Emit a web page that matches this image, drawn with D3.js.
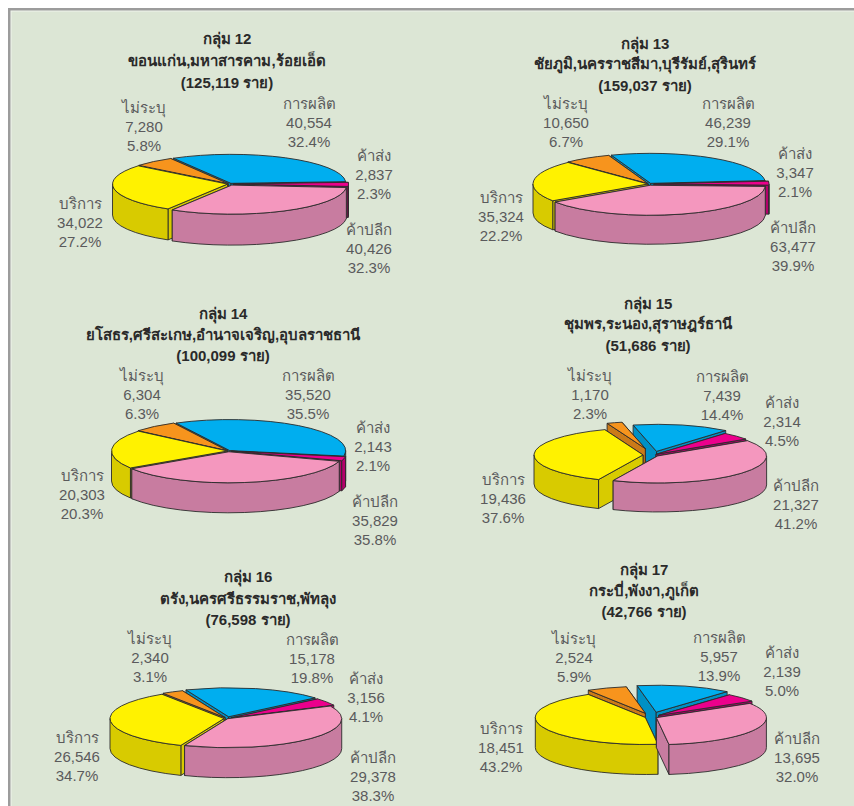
<!DOCTYPE html>
<html><head><meta charset="utf-8">
<script src="https://cdn.jsdelivr.net/npm/d3@7"></script>
<style>html,body{margin:0;padding:0;background:#fff;overflow:hidden}svg{display:block}</style>
</head><body><div id="c"></div>
<script>
const categories = ["การผลิต","ค้าส่ง","ค้าปลีก","บริการ","ไม่ระบุ"];
const groupNames = ["กลุ่ม 12","กลุ่ม 13","กลุ่ม 14","กลุ่ม 15","กลุ่ม 16","กลุ่ม 17"];
const provinces = ["ขอนแก่น,มหาสารคาม,ร้อยเอ็ด","ชัยภูมิ,นครราชสีมา,บุรีรัมย์,สุรินทร์","ยโสธร,ศรีสะเกษ,อำนาจเจริญ,อุบลราชธานี","ชุมพร,ระนอง,สุราษฎร์ธานี","ตรัง,นครศรีธรรมราช,พัทลุง","กระบี่,พังงา,ภูเก็ต"];
const totals = ["125,119","159,037","100,099","51,686","76,598","42,766"];
const values12 = [40554,2837,40426,34022,7280];
const values13 = [46239,3347,63477,35324,10650];
const values14 = [35520,2143,35829,20303,6304];
const values15 = [7439,2314,21327,19436,1170];
const values16 = [15178,3156,29378,26546,2340];
const values17 = [5957,2139,13695,18451,2524];
const percents12 = ["32.4%","2.3%","32.3%","27.2%","5.8%"];
const percents13 = ["29.1%","2.1%","39.9%","22.2%","6.7%"];
const percents14 = ["35.5%","2.1%","35.8%","20.3%","6.3%"];
const percents15 = ["14.4%","4.5%","41.2%","37.6%","2.3%"];
const percents16 = ["19.8%","4.1%","38.3%","34.7%","3.1%"];
const percents17 = ["13.9%","5.0%","32.0%","43.2%","5.9%"];
const allValues = [values12,values13,values14,values15,values16,values17];
const allPercents = [percents12,percents13,percents14,percents15,percents16,percents17];

// layout (separate from data)
const topColors = ["#00AEEF","#EC008C","#F497BE","#FFF200","#F7941D"];
const wallColors = ["#0090C4","#B4006B","#C87CA0","#D8CB00","#CB7A18"];
const paintOrder = [0,1,4,3,2];
const layouts = [
 {cx:229.5,cy:184,rx:115,ry:29,d:31,start:-30,ex:[3,4,5,2,2],title:[227,38,60,82],
  labels:[[309,103],[374,155],[369,229],[80,203],[144,107]]},
 {cx:649,cy:184,rx:115,ry:30,d:29,start:-20,ex:[3,5,5,1,2],title:[645,43,63,85],
  labels:[[728,103],[795,153],[793,227],[501,197],[566,103]]},
 {cx:228.5,cy:451,rx:116,ry:31,d:30,start:-27.5,ex:[2,3,3,1,2],title:[223,313,334,355],
  labels:[[308,375],[373,427],[375,501],[82,475],[142,375]]},
 {cx:653,cy:455,rx:109,ry:27,d:29,start:-12.4,ex:[15,4,6,10,27],title:[648,303,323,345],
  labels:[[722,376],[782,402],[796,485],[503,479],[590,375]]},
 {cx:227,cy:718.5,rx:114,ry:29,d:30,start:-22,ex:[7,5,1,3,4],title:[248,576,598,619],
  labels:[[312,639],[366,678],[373,757],[77,737],[150,638]]},
 {cx:651,cy:717,rx:110,ry:27,d:30,start:-10,ex:[20,10,6,6,16],title:[644,569,590,611],
  labels:[[719,637],[782,652],[797,738],[501,728],[574,638]]}
];
const FONT = "'Liberation Sans','Noto Sans',Arial,sans-serif";
const labelStep = 19;

const svg = d3.select("#c").append("svg").attr("width",854).attr("height",806);
svg.append("rect").attr("x",8).attr("y",8).attr("width",846).attr("height",798).attr("fill","#9C9C9C");
svg.append("rect").attr("x",10.5).attr("y",10.5).attr("width",844).attr("height",796).attr("fill","#F0F5EC");
svg.append("rect").attr("x",11.5).attr("y",11.5).attr("width",843).attr("height",795).attr("fill","#DCE6D5");

const rad = d3.scaleLinear().domain([0,360]).range([0,2*Math.PI]);
const pie = d3.pie().sort(null);

allValues.forEach((vals,g)=>{
  const L = layouts[g];
  const root = svg.append("g");
  const arcs = pie.startAngle(rad(L.start)).endAngle(rad(L.start+360))(vals);
  const slices = arcs.map(a=>{
    const mid=(a.startAngle+a.endAngle)/2, e=L.ex[a.index];
    return {...a,mid,ax:L.cx+Math.sin(mid)*e,ay:L.cy-Math.cos(mid)*e*L.ry/L.rx};
  });
  const pt=(s,t,dz=0)=>[s.ax+Math.sin(t)*L.rx, s.ay-Math.cos(t)*L.ry+dz];
  const arcTo=(s,t0,t1,dz=0,sweep=1)=>{
    const p=pt(s,t1,dz), large=Math.abs(t1-t0)>Math.PI?1:0;
    return `A${L.rx},${L.ry} 0 ${large} ${sweep} ${p[0]},${p[1]}`;
  };
  paintOrder.map(i=>slices[i]).forEach(s=>{
    const gs=root.append("g").attr("stroke","#2b2b2b").attr("stroke-width",0.9).attr("stroke-linejoin","round");
    const wc=wallColors[s.index], tc=topColors[s.index];
    // cut faces, the one further back first
    [s.startAngle,s.endAngle].map(t=>pt(s,t)).sort((a,b)=>a[1]-b[1]).forEach(p=>{
      gs.append("path").attr("fill",wc)
        .attr("d",`M${s.ax},${s.ay}L${p[0]},${p[1]}L${p[0]},${p[1]+L.d}L${s.ax},${s.ay+L.d}Z`);
    });
    // outer wall: only the front half of the rim, angles between 90 and 270 degrees
    const t0=Math.max(s.startAngle,Math.PI/2), t1=Math.min(s.endAngle,3*Math.PI/2);
    if(t1>t0){
      const p0=pt(s,t0), p1b=pt(s,t1,L.d);
      gs.append("path").attr("fill",wc)
        .attr("d",`M${p0[0]},${p0[1]}${arcTo(s,t0,t1)}L${p1b[0]},${p1b[1]}${arcTo(s,t1,t0,L.d,0)}Z`);
    }
    // top
    const p0=pt(s,s.startAngle);
    gs.append("path").attr("fill",tc)
      .attr("d",`M${s.ax},${s.ay}L${p0[0]},${p0[1]}${arcTo(s,s.startAngle,s.endAngle)}Z`);
  });
  // title
  const tg=root.append("g").attr("text-anchor","middle").attr("font-family",FONT)
    .attr("font-weight","bold").attr("font-size",15).attr("fill","#2a2a2a");
  [groupNames[g],provinces[g],`(${totals[g]} ราย)`].forEach((t,i)=>{
    tg.append("text").attr("x",L.title[0]).attr("y",L.title[i+1]+5.5).text(t);
  });
  // labels
  const lg=root.append("g").attr("text-anchor","middle").attr("font-family",FONT)
    .attr("font-size",15).attr("fill","#5a5a5c");
  categories.forEach((c,i)=>{
    const [x,y]=L.labels[i];
    [c,d3.format(",")(vals[i]),allPercents[g][i]].forEach((t,j)=>{
      lg.append("text").attr("x",x).attr("y",y+j*labelStep+5.5).text(t);
    });
  });
});
</script></body></html>
